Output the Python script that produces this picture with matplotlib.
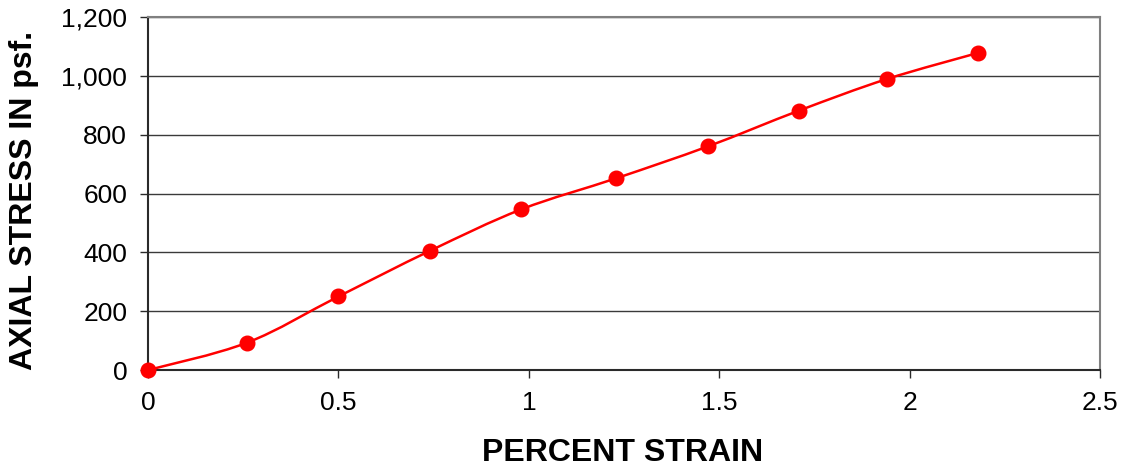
import numpy as np
import matplotlib
matplotlib.use("Agg")
import matplotlib.pyplot as plt
from matplotlib.path import Path
from matplotlib.patches import PathPatch
from matplotlib.ticker import FuncFormatter

# Unconfined compression test results
strain_pct = [0.0, 0.26, 0.50, 0.74, 0.98, 1.23, 1.47, 1.71, 1.94, 2.18]
stress_psf = [0, 93, 250, 405, 546, 652, 760, 882, 989, 1078]

x_ticks = [0, 0.5, 1, 1.5, 2, 2.5]
y_ticks = [0, 200, 400, 600, 800, 1000, 1200]

plt.rcParams["font.family"] = ["Liberation Sans", "DejaVu Sans"]

fig = plt.figure(figsize=(11.25, 4.69), dpi=100)
ax = fig.add_axes([0.1316, 0.211, 0.8462, 0.7528])


def smooth_path(xs, ys, tension=1 / 6):
    """Cubic Bezier path through the points (spreadsheet-style smoothed line)."""
    xs = np.asarray(xs, float)
    ys = np.asarray(ys, float)
    n = len(xs)
    verts = [(xs[0], ys[0])]
    codes = [Path.MOVETO]
    for i in range(n - 1):
        p0 = np.array([xs[max(i - 1, 0)], ys[max(i - 1, 0)]])
        p1 = np.array([xs[i], ys[i]])
        p2 = np.array([xs[i + 1], ys[i + 1]])
        p3 = np.array([xs[min(i + 2, n - 1)], ys[min(i + 2, n - 1)]])
        c1 = p1 + (p2 - p0) * tension
        c2 = p2 - (p3 - p1) * tension
        verts += [tuple(c1), tuple(c2), tuple(p2)]
        codes += [Path.CURVE4] * 3
    return Path(verts, codes)


curve = PathPatch(smooth_path(strain_pct, stress_psf), facecolor="none",
                  edgecolor="#ff0000", linewidth=1.8, zorder=3)
ax.add_patch(curve)
ax.plot(strain_pct, stress_psf, linestyle="none", marker="o", markersize=10.5,
        color="#ff0000", zorder=4, clip_on=False)

ax.set_xlim(0, 2.5)
ax.set_ylim(0, 1200)
ax.set_xticks(x_ticks)
ax.set_yticks(y_ticks)
ax.xaxis.set_major_formatter(FuncFormatter(lambda v, p: f"{v:g}"))
ax.yaxis.set_major_formatter(FuncFormatter(lambda v, p: f"{int(v):,}"))

ax.yaxis.grid(True, color="#3a3a3a", linewidth=1.0)
ax.set_axisbelow(True)

for side in ("top", "right"):
    ax.spines[side].set_color("#808080")
    ax.spines[side].set_linewidth(1.5)
for side in ("left", "bottom"):
    ax.spines[side].set_color("#2a2a2a")
    ax.spines[side].set_linewidth(1.5)

ax.tick_params(axis="both", direction="out", length=6, width=1.0,
               color="#2a2a2a", labelsize=19, labelcolor="black")
ax.tick_params(axis="x", pad=9)
ax.tick_params(axis="y", pad=9)

fig.text(0.553, 0.017, "PERCENT STRAIN", ha="center", va="baseline",
         fontsize=23, fontweight="bold")
fig.text(0.021, 0.573, "AXIAL STRESS IN psf.", ha="center", va="center",
         rotation=90, fontsize=23, fontweight="bold")

fig.savefig("out.png", dpi=100, facecolor="white")
